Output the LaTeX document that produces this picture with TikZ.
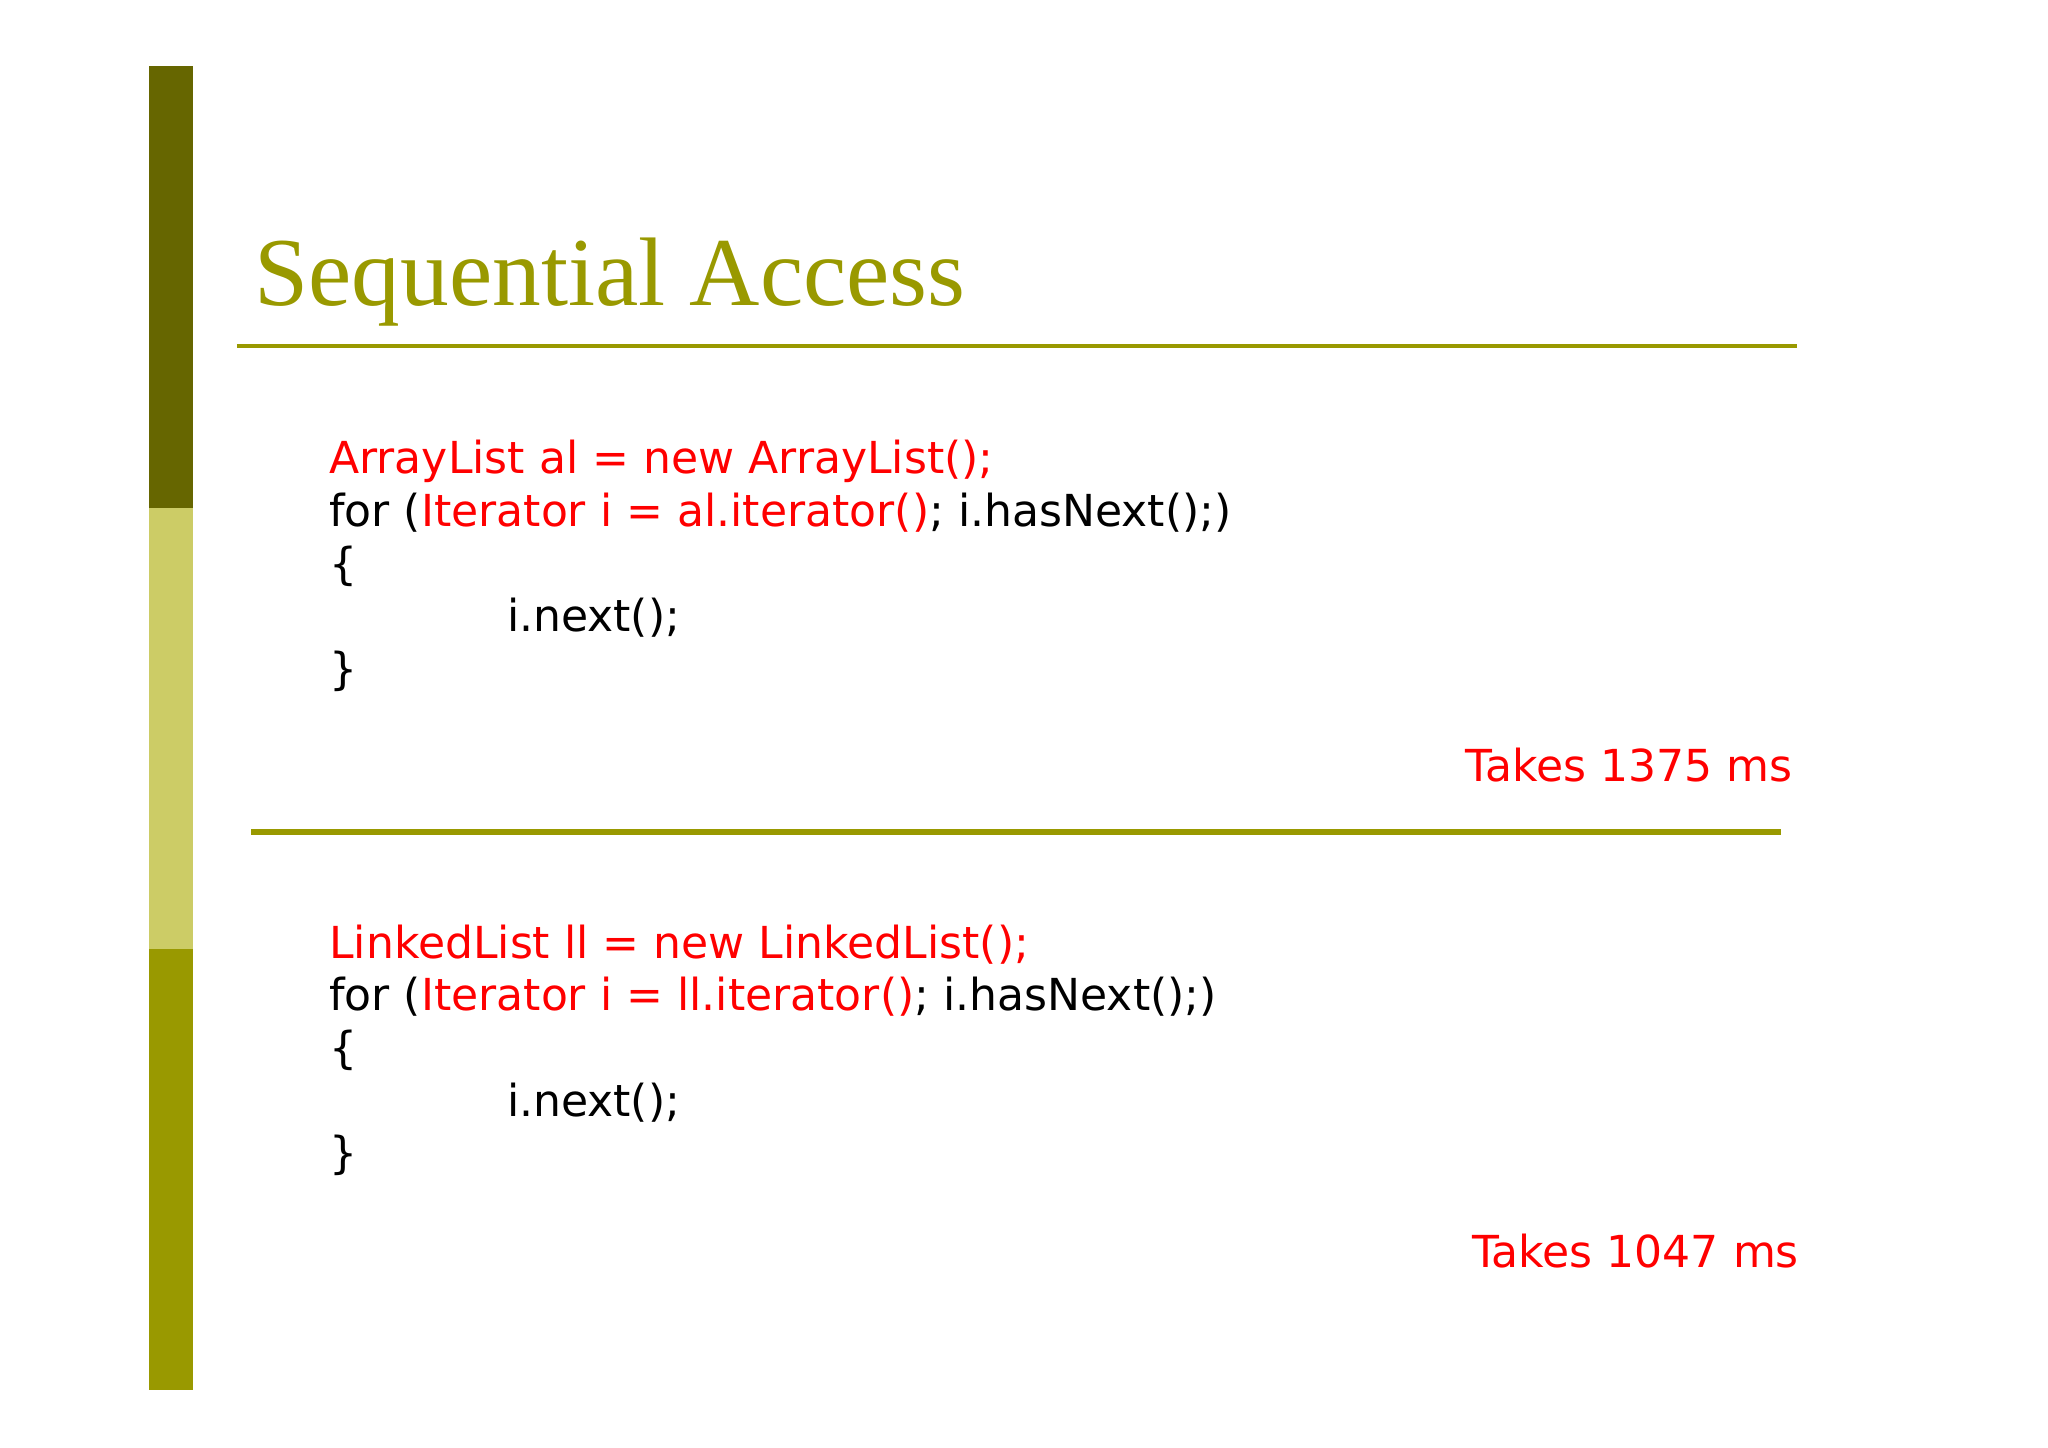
\documentclass[tikz,border=0pt]{standalone}
\usepackage{fontspec}
\setmainfont{DejaVu Sans}
\newfontfamily\titlefont{Liberation Serif}
\definecolor{olive1}{HTML}{666600}
\definecolor{olive2}{HTML}{CCCC66}
\definecolor{olive3}{HTML}{999900}
\definecolor{codered}{HTML}{FF0000}
\tikzset{code/.style={anchor=base west,inner sep=0pt,font=\fontsize{33.5}{33.5}\selectfont},
rt/.style={anchor=base east,inner sep=0pt,text=codered,font=\fontsize{33.5}{33.5}\selectfont}}
\begin{document}
\begin{tikzpicture}[x=1pt,y=-1pt]
\useasboundingbox (0,0) rectangle (1556,1100);
\fill[olive1] (113,50) rectangle (147,386);
\fill[olive2] (113,386) rectangle (147,721);
\fill[olive3] (113,721) rectangle (147,1056);
\node[anchor=base west,inner sep=0pt,text=olive3,font=\titlefont\fontsize{74}{74}\selectfont] (title) at (193,232) {Sequential Access};
\draw[olive3,line width=3] (180,263) -- (1365,263);
\draw[olive3,line width=5] (191,632) -- (1353,632);
\node[code,text=codered] (a1) at (250,360) {ArrayList al = new ArrayList();};
\node[code] (a2) at (250,400) {for (\textcolor{codered}{Iterator i = al.iterator()}; i.hasNext();)};
\node[code] (a3) at (250,440) {\{};
\node[code] (a4) at (385,480) {i.next();};
\node[code] (a5) at (250,520) {\}};
\node[rt] (t1) at (1362,594) {Takes 1375 ms};
\node[code,text=codered] (b1) at (250,728) {LinkedList ll = new LinkedList();};
\node[code] (b2) at (250,768) {for (\textcolor{codered}{Iterator i = ll.iterator()}; i.hasNext();)};
\node[code] (b3) at (250,808) {\{};
\node[code] (b4) at (385,848) {i.next();};
\node[code] (b5) at (250,888) {\}};
\node[rt] (t2) at (1367,963) {Takes 1047 ms};
\end{tikzpicture}
\end{document}
